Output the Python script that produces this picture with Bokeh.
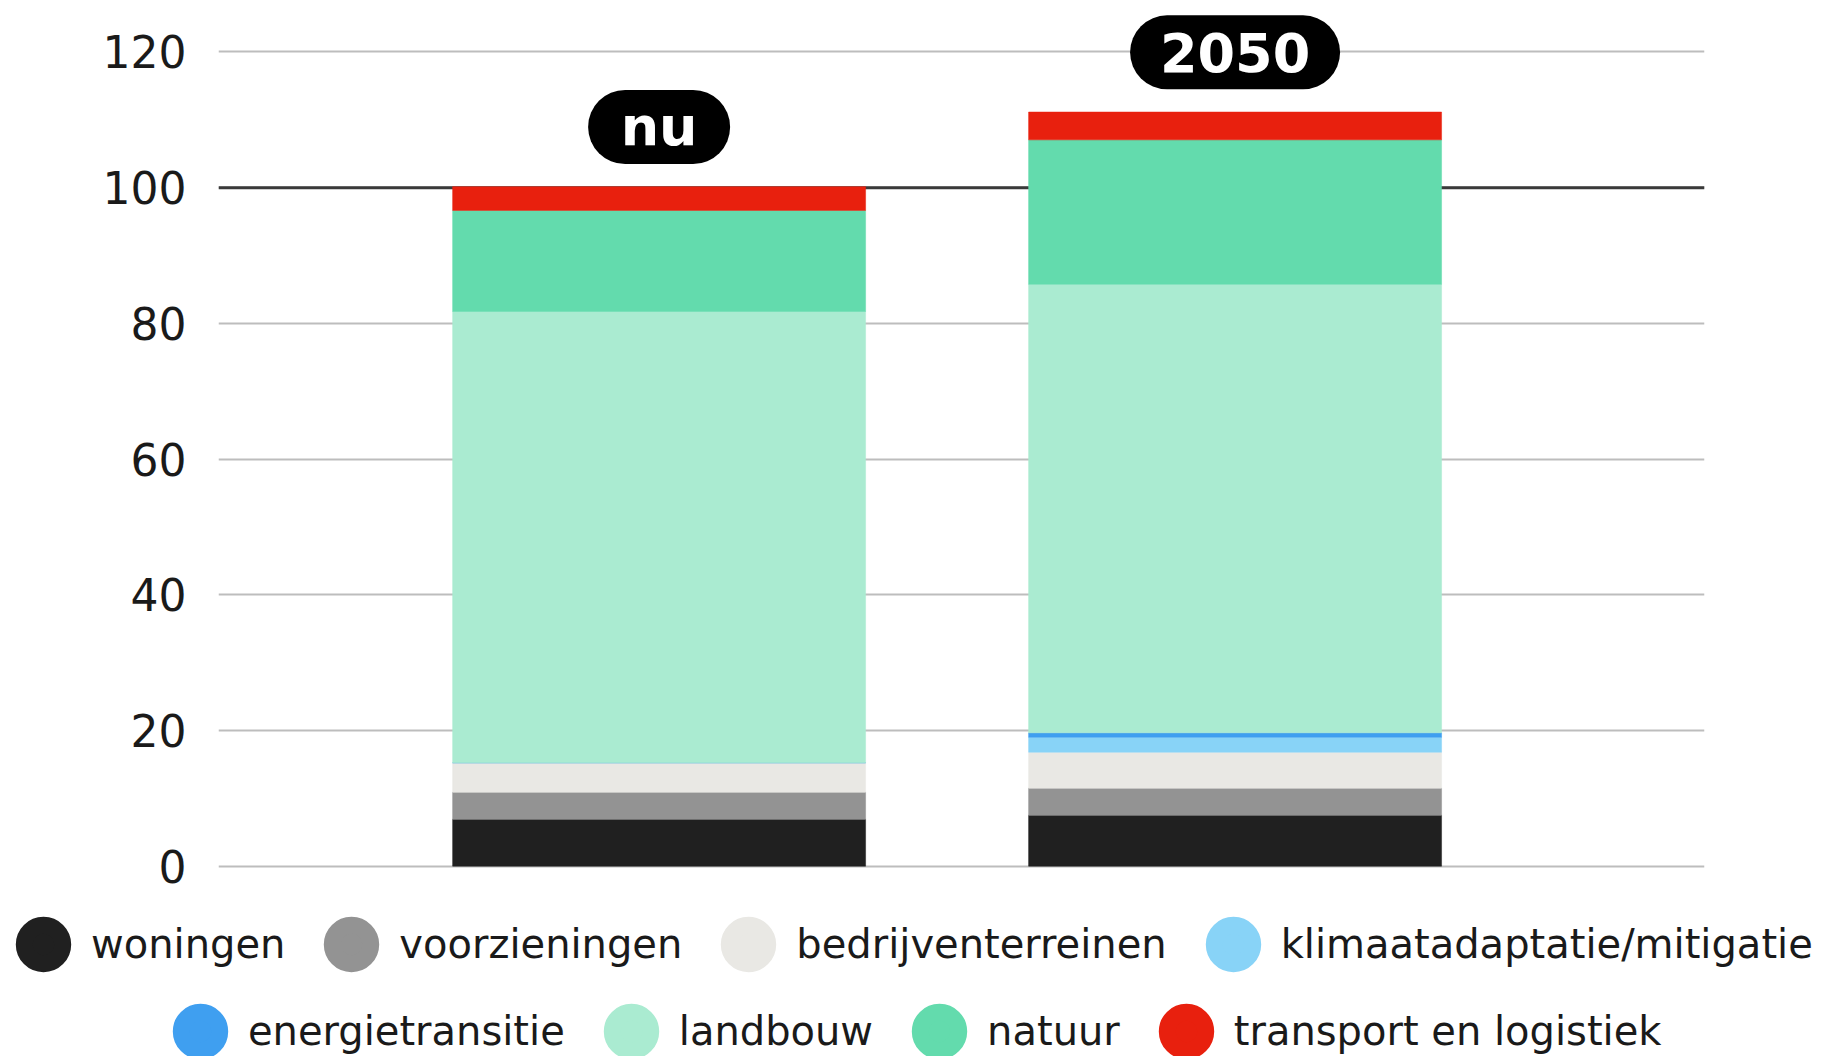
from bokeh.plotting import figure
from bokeh.models import ColumnDataSource, Range1d, Span, Legend, LegendItem, FixedTicker
from bokeh.embed import file_html
from bokeh.resources import INLINE
from bokeh.core.properties import value

# ---- data ----
periods = ["nu", "2050"]
categories = ["woningen", "voorzieningen", "bedrijventerreinen",
              "klimaatadaptatie/mitigatie", "energietransitie",
              "landbouw", "natuur", "transport en logistiek"]
woningen = [6.9, 7.5]
voorzieningen = [4.0, 4.0]
bedrijventerreinen = [4.35, 5.3]
klimaatadaptatie = [0.0, 2.2]
energietransitie = [0.0, 0.65]
landbouw = [66.5, 66.1]
natuur = [14.9, 21.3]
transport = [3.5, 4.1]
colors = ["#202020", "#939393", "#e9e8e4", "#88d3f7",
          "#3f9ff0", "#aaebd1", "#63dbad", "#e8200e"]
y_ticks = [0, 20, 40, 60, 80, 100, 120]
reference_level = 100

# ---- layout / style ----
FONT = "DejaVu Sans"
W, H_MAIN, H_LEG = 1824, 900, 156
BORDER_L, BORDER_R = 218, 120
X_START, X_END = -0.265, 2.315
Y_START, Y_END = -5.06, 127.59
PX_PER_X = (W - BORDER_L - BORDER_R) / (X_END - X_START)
PILL_OFFSET = 8.8      # data units above the bar top
PILL_HEIGHT = 74       # px
PILL_CHAR_HALF = 17    # px of straight pill part per character (half)
DOT_BOX = 96           # legend glyph box (marker size = 0.4 * box)
DOT_RIM = 17           # extra outline so the dot is ~55 px wide

series = [woningen, voorzieningen, bedrijventerreinen, klimaatadaptatie,
          energietransitie, landbouw, natuur, transport]

xs = [i + 0.5 for i in range(len(periods))]
totals = [sum(v[i] for v in series) for i in range(len(periods))]
data = {"x": xs, "label": periods}
for name, vals in zip(categories, series):
    data[name] = vals
data["pill_y"] = [t + PILL_OFFSET for t in totals]
data["x0"] = [x - PILL_CHAR_HALF * len(l) / PX_PER_X for x, l in zip(xs, periods)]
data["x1"] = [x + PILL_CHAR_HALF * len(l) / PX_PER_X for x, l in zip(xs, periods)]
source = ColumnDataSource(data)

p = figure(width=W, height=H_MAIN, output_backend="svg", toolbar_location=None,
           x_range=Range1d(X_START, X_END), y_range=Range1d(Y_START, Y_END),
           x_axis_location=None, min_border_left=BORDER_L, min_border_right=BORDER_R,
           min_border_top=0, min_border_bottom=0, outline_line_color=None)

p.xgrid.grid_line_color = None
p.ygrid.ticker = FixedTicker(ticks=y_ticks)
p.ygrid.grid_line_color = "#bdbdbd"
p.ygrid.grid_line_width = 2

p.yaxis.ticker = FixedTicker(ticks=y_ticks)
p.yaxis.axis_line_color = None
p.yaxis.major_tick_line_color = None
p.yaxis.minor_tick_line_color = None
p.yaxis.major_tick_out = 0
p.yaxis.major_tick_in = 0
p.yaxis.major_label_standoff = 32
p.yaxis.major_label_text_font = FONT
p.yaxis.major_label_text_font_size = "44px"
p.yaxis.major_label_text_color = "#1a1a1a"

p.add_layout(Span(location=reference_level, dimension="width",
                  line_color="#3a3a3a", line_width=3, level="underlay"))

p.vbar_stack(categories, x="x", width=0.717, source=source, color=colors,
             line_width=0.5)

# pill-shaped period labels
p.segment(x0="x0", x1="x1", y0="pill_y", y1="pill_y", source=source,
          line_color="black", line_width=PILL_HEIGHT, line_cap="round")
p.text(x="x", y="pill_y", text="label", source=source,
       text_color="white", text_font=value(FONT), text_font_style="bold",
       text_font_size="54px", text_align="center", text_baseline="middle")

# ---- legend strip ----
p2 = figure(width=W, height=H_LEG, output_backend="svg", toolbar_location=None,
            x_range=Range1d(0, 1), y_range=Range1d(0, 1),
            x_axis_location=None, y_axis_location=None, min_border=0,
            outline_line_color=None)
p2.xgrid.grid_line_color = None
p2.ygrid.grid_line_color = None

dots = [p2.scatter(x=[-10], y=[-10], marker="circle", size=10, color=c,
                   line_width=DOT_RIM) for c in colors]

def make_legend(idx, loc):
    return Legend(items=[LegendItem(label=categories[i], renderers=[dots[i]]) for i in idx],
                  orientation="horizontal", location=loc,
                  glyph_width=DOT_BOX, glyph_height=DOT_BOX,
                  label_standoff=0, spacing=18, padding=0, margin=0,
                  border_line_color=None, background_fill_alpha=0,
                  label_text_font=FONT, label_text_font_size="40px",
                  label_text_color="#1a1a1a")

p2.add_layout(make_legend([0, 1, 2, 3], (-5, 64)))
p2.add_layout(make_legend([4, 5, 6, 7], (152, -23)))

open("out.html", "w").write(file_html([p, p2], INLINE))
